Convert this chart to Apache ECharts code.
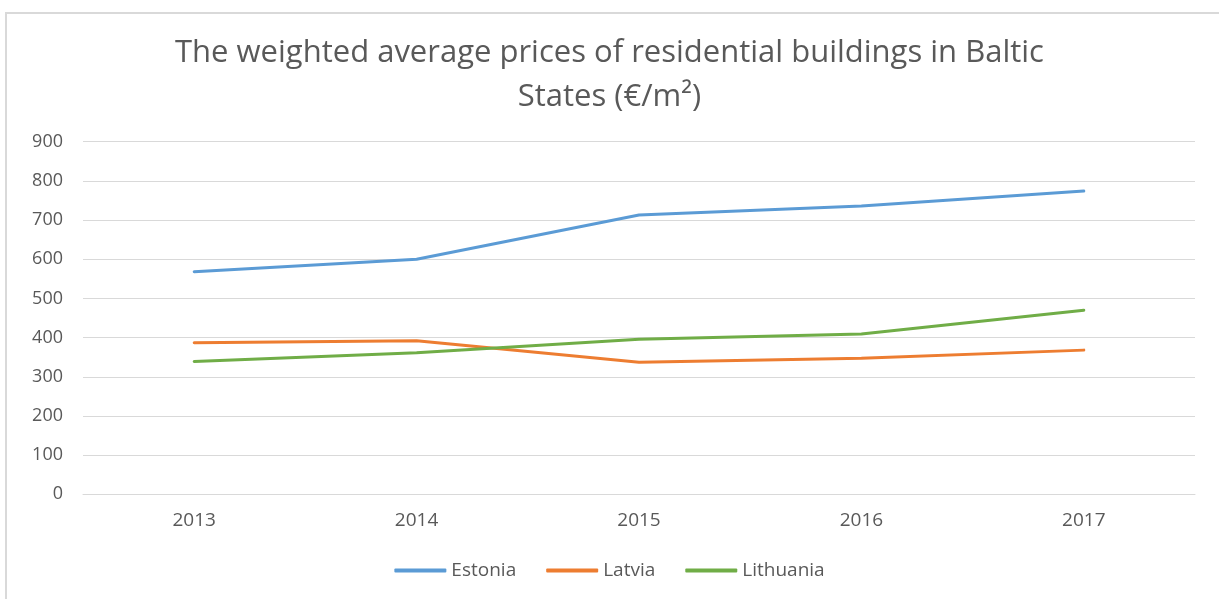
<!DOCTYPE html>
<html>
<head>
<meta charset="utf-8">
<script src="https://cdn.jsdelivr.net/npm/echarts@6/dist/echarts.min.js"></script>
<style>
  html, body { margin: 0; padding: 0; background: #fff; overflow: hidden; }
  #frame { position: absolute; left: 5px; top: 12px; width: 1300px; height: 700px; border: 2px solid #d9d9d9; box-sizing: border-box; }
  #chart { position: absolute; left: 0; top: 0; width: 1219px; height: 599px; }
</style>
</head>
<body>
<div id="frame"></div>
<div id="chart"></div>
<script>
  const years = ['2013', '2014', '2015', '2016', '2017']
  const estonia = [568, 600, 713, 736, 774]
  const latvia = [387, 392, 337, 347, 368]
  const lithuania = [339, 361, 396, 409, 470]

  const textColor = '#595959'
  const font = 'Open Sans'

  const chart = echarts.init(document.getElementById('chart'))

  function line(name, data, color) {
    return {
      name: name,
      type: 'line',
      data: data,
      symbol: 'none',
      lineStyle: { color: color, width: 3, cap: 'round' },
      itemStyle: { color: color },
      animation: false
    }
  }

  chart.setOption({
    title: {
      text: 'The weighted average prices of residential buildings in Baltic\nStates (€/m²)',
      left: 'center',
      top: 26,
      textStyle: {
        color: textColor,
        fontFamily: font,
        fontWeight: 'normal',
        fontSize: 31,
        lineHeight: 44
      }
    },
    legend: {
      bottom: 14,
      left: 'center',
      itemWidth: 52,
      itemHeight: 4,
      itemGap: 30,
      icon: 'roundRect',
      textStyle: { color: textColor, fontFamily: font, fontSize: 19 },
      data: ['Estonia', 'Latvia', 'Lithuania']
    },
    grid: {
      left: 83,
      right: 24,
      top: 141.7,
      bottom: 104.7
    },
    xAxis: {
      type: 'category',
      data: years,
      boundaryGap: true,
      axisLine: { lineStyle: { color: '#d9d9d9', width: 1 } },
      axisTick: { show: false },
      axisLabel: { color: textColor, fontFamily: font, fontSize: 19, margin: 17 }
    },
    yAxis: {
      type: 'value',
      min: 0,
      max: 900,
      interval: 100,
      axisLine: { show: false },
      axisTick: { show: false },
      axisLabel: { color: textColor, fontFamily: font, fontSize: 18, margin: 20 },
      splitLine: { lineStyle: { color: '#d9d9d9', width: 1 } }
    },
    series: [
      line('Estonia', estonia, '#5B9BD5'),
      line('Latvia', latvia, '#ED7D31'),
      line('Lithuania', lithuania, '#70AD47')
    ]
  })
</script>
</body>
</html>
